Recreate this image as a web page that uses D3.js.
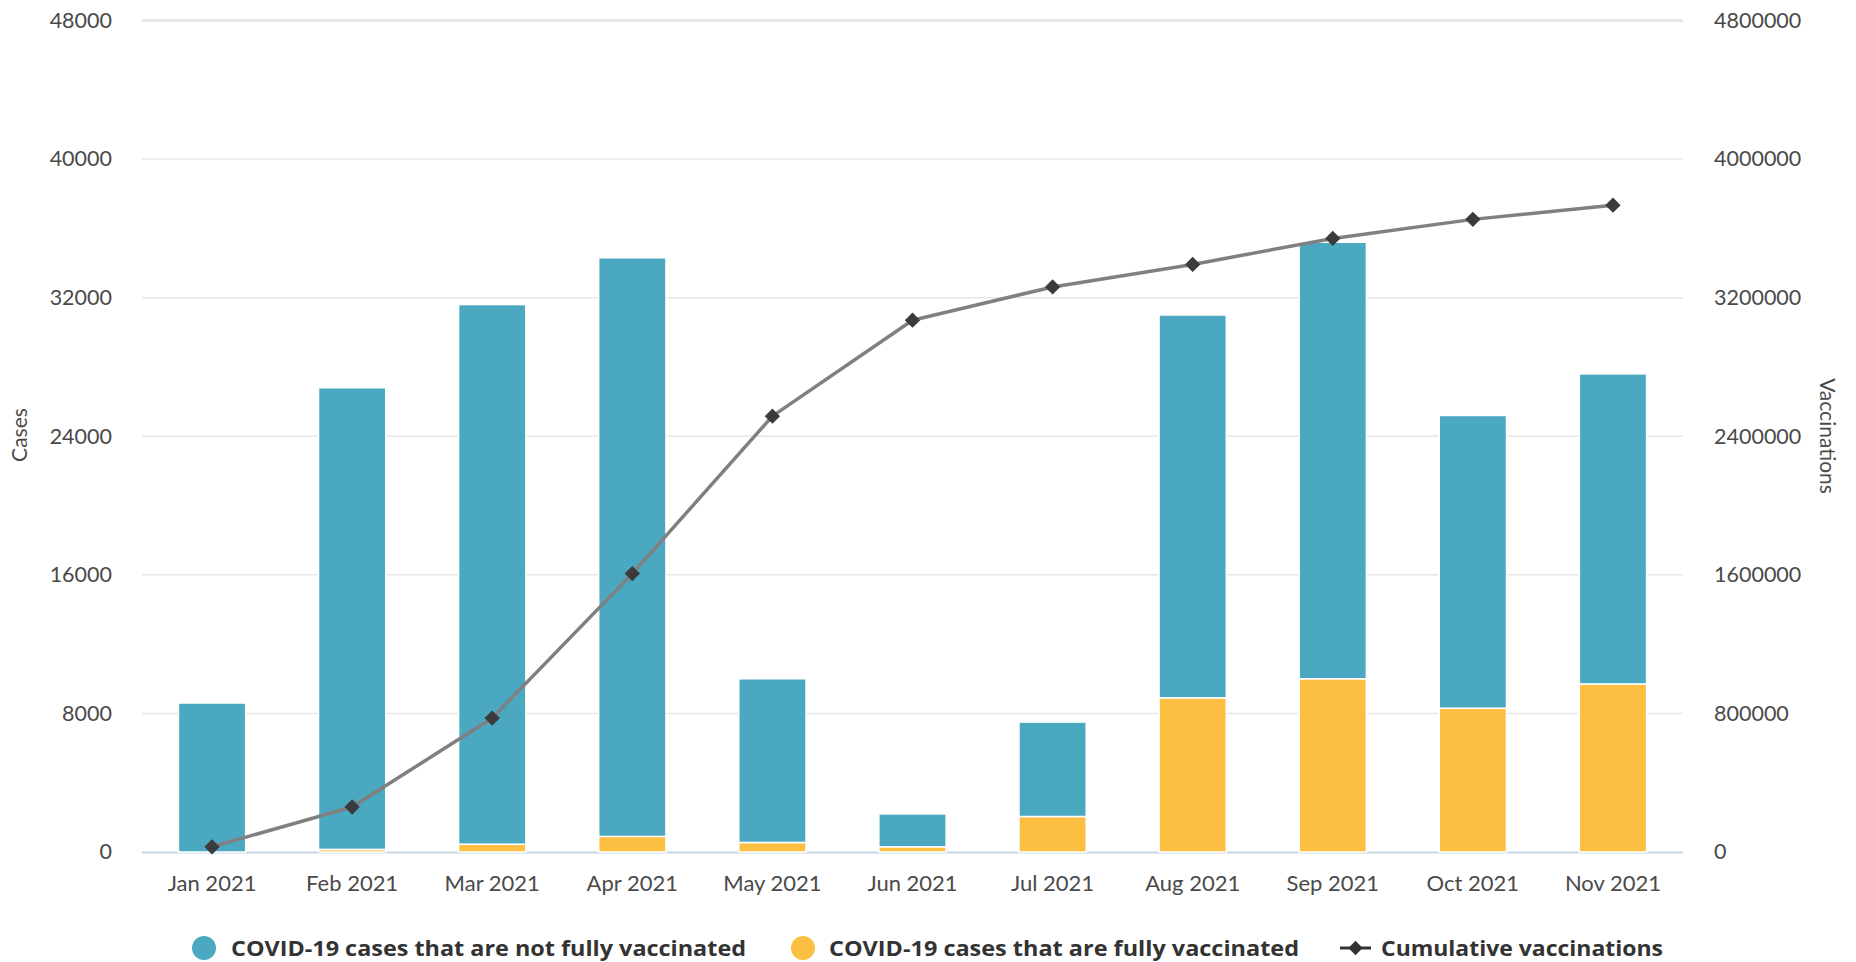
<!DOCTYPE html>
<html><head><meta charset="utf-8">
<script src="https://cdn.jsdelivr.net/npm/d3@7"></script>
<style>
html,body{margin:0;padding:0;background:#fff;}
svg{display:block;font-family:Lato,"Noto Sans",sans-serif;}
</style></head>
<body>
<svg id="chart" width="1856" height="962"></svg>
<script>
const months = ["Jan 2021","Feb 2021","Mar 2021","Apr 2021","May 2021","Jun 2021","Jul 2021","Aug 2021","Sep 2021","Oct 2021","Nov 2021"];
const totalCases = [8600,26800,31600,34300,10000,2200,7500,31000,35200,25200,27600];
const vaccinatedCases = [0,150,450,900,550,300,2050,8900,10000,8300,9700];
const notVaccinatedCases = totalCases.map((t,i)=>t - vaccinatedCases[i]);
const cumulativeVaccinations = [30000,260000,773000,1607000,2516000,3070000,3262000,3392000,3542000,3652000,3734000];
const leftTicks = [0,8000,16000,24000,32000,40000,48000];
const rightTicks = [0,800000,1600000,2400000,3200000,4000000,4800000];
const legendLabels = ["COVID-19 cases that are not fully vaccinated","COVID-19 cases that are fully vaccinated","Cumulative vaccinations"];

const colors = {notVax:"#4aa8c1", vax:"#fdbf42", line:"#808080", marker:"#3b3b3d"};
const svg = d3.select("#chart");
const L = 142, R = 1683, T = 20.5, B = 852;
const tickFont = "Lato,'Noto Sans',sans-serif";

const x = d3.scaleBand().domain(months).range([L,R]).paddingInner(0.52).paddingOuter(0.26);
const y = d3.scaleLinear().domain([0,48000]).range([B,T]);
const y2 = d3.scaleLinear().domain([0,4800000]).range([B,T]);

// gridlines
svg.append("g").selectAll("line").data(leftTicks.filter(d=>d>0)).join("line")
  .attr("x1",L).attr("x2",R).attr("y1",d=>y(d)).attr("y2",d=>y(d))
  .attr("stroke","#e6e6e6").attr("stroke-width",d=>d===48000?3:1.5);
svg.append("line").attr("x1",L).attr("x2",R).attr("y1",B+0.5).attr("y2",B+0.5)
  .attr("stroke","#c9d6e3").attr("stroke-width",2);

// left axis
const gl = svg.append("g").attr("transform",`translate(${L-30},0)`)
  .call(d3.axisLeft(y).tickValues(leftTicks).tickSize(0).tickPadding(0).tickFormat(d3.format("d")));
gl.select(".domain").remove();
gl.selectAll("text").attr("font-size",21.5).attr("fill","#4a4a4a").attr("font-family",tickFont);

// right axis
const gr = svg.append("g").attr("transform",`translate(${R+31},0)`)
  .call(d3.axisRight(y2).tickValues(rightTicks).tickSize(0).tickPadding(0).tickFormat(d3.format("d")));
gr.select(".domain").remove();
gr.selectAll("text").attr("font-size",21.5).attr("fill","#4a4a4a").attr("font-family",tickFont);

// x axis
const gx = svg.append("g").attr("transform",`translate(0,${B+20})`)
  .call(d3.axisBottom(x).tickSize(0).tickPadding(0));
gx.select(".domain").remove();
gx.selectAll("text").attr("font-size",22).attr("fill","#4a4a4a").attr("dy","0.85em").attr("font-family",tickFont);

// axis titles
svg.append("text").attr("transform",`translate(27,435) rotate(-90)`).attr("text-anchor","middle")
  .attr("font-size",21).attr("fill","#4a4a4a").text("Cases");
svg.append("text").attr("transform",`translate(1820,436) rotate(90)`).attr("text-anchor","middle")
  .attr("font-size",21).attr("fill","#4a4a4a").text("Vaccinations");

// stacked bars
const stackData = months.map((m,i)=>({month:m, vax:vaccinatedCases[i], notVax:notVaccinatedCases[i]}));
const series = d3.stack().keys(["vax","notVax"])(stackData);
svg.append("g").selectAll("g").data(series).join("g")
  .attr("fill",d=>colors[d.key])
  .selectAll("rect").data(d=>d).join("rect")
  .attr("x",d=>x(d.data.month)).attr("width",x.bandwidth())
  .attr("y",d=>y(d[1])).attr("height",d=>Math.max(0,y(d[0])-y(d[1])))
  .attr("stroke","#fff").attr("stroke-width",1.5);

// line
const line = d3.line().x((d,i)=>x(months[i])+x.bandwidth()/2).y(d=>y2(d));
svg.append("path").datum(cumulativeVaccinations).attr("d",line)
  .attr("fill","none").attr("stroke",colors.line).attr("stroke-width",3.5).attr("stroke-linejoin","round");
const diamond = d3.symbol().type(d3.symbolDiamond2).size(150);
svg.append("g").selectAll("path").data(cumulativeVaccinations).join("path")
  .attr("transform",(d,i)=>`translate(${x(months[i])+x.bandwidth()/2},${y2(d)})`)
  .attr("d",diamond).attr("fill",colors.marker);

// legend
const lg = svg.append("g").attr("font-size",22).attr("font-weight","bold").attr("fill","#333")
  .attr("font-family","'Open Sans',Lato,sans-serif");
const ly = 948;
lg.append("circle").attr("cx",204).attr("cy",ly).attr("r",12).attr("fill",colors.notVax);
lg.append("text").attr("x",231).attr("y",ly).attr("dy","0.35em").attr("textLength",515).attr("lengthAdjust","spacingAndGlyphs").text(legendLabels[0]);
lg.append("circle").attr("cx",803).attr("cy",ly).attr("r",12).attr("fill",colors.vax);
lg.append("text").attr("x",829).attr("y",ly).attr("dy","0.35em").attr("textLength",470).attr("lengthAdjust","spacingAndGlyphs").text(legendLabels[1]);
lg.append("line").attr("x1",1340).attr("x2",1371).attr("y1",ly).attr("y2",ly).attr("stroke","#333").attr("stroke-width",3);
lg.append("path").attr("transform",`translate(1355.5,${ly})`).attr("d",d3.symbol().type(d3.symbolDiamond2).size(130)).attr("fill","#333");
lg.append("text").attr("x",1381).attr("y",ly).attr("dy","0.35em").attr("textLength",282).attr("lengthAdjust","spacingAndGlyphs").text(legendLabels[2]);
</script>
</body></html>
